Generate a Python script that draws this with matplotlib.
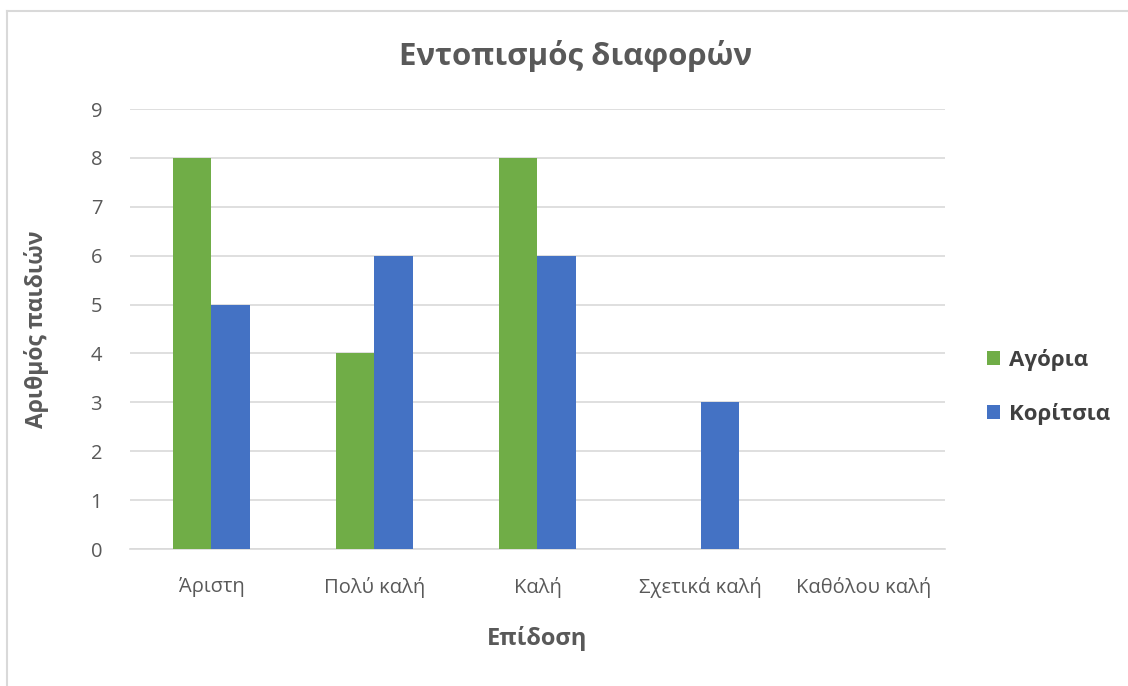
import matplotlib.pyplot as plt
import numpy as np

categories = ['Άριστη', 'Πολύ καλή', 'Καλή', 'Σχετικά καλή', 'Καθόλου καλή']
boys = [8, 4, 8, 0, 0]
girls = [5, 6, 6, 3, 0]

plt.rcParams['font.family'] = ['Open Sans', 'DejaVu Sans']

fig = plt.figure(figsize=(11.28, 6.86), dpi=100)
ax = fig.add_axes([0.1152, 0.1997, 0.7226, 0.6413])

x = np.arange(len(categories))
w = 0.236
ax.bar(x - w / 2, boys, w, color='#70AD47', label='Αγόρια', zorder=3)
ax.bar(x + w / 2, girls, w, color='#4472C4', label='Κορίτσια', zorder=3)

ax.set_xlim(-0.5, len(categories) - 0.5)
ax.set_ylim(0, 9)
ax.set_yticks(range(0, 10))
ax.yaxis.grid(True, color='#d9d9d9', linewidth=1.2, zorder=0)
for s in ['top', 'right', 'left']:
    ax.spines[s].set_visible(False)
ax.spines['bottom'].set_color('#d9d9d9')
ax.spines['bottom'].set_linewidth(1.2)
ax.tick_params(axis='both', length=0, labelsize=14.5, labelcolor='#595959')
ax.tick_params(axis='y', pad=20)
ax.tick_params(axis='x', pad=20)
ax.set_xticks(x)
ax.set_xticklabels(categories)

ax.set_xlabel('Επίδοση', fontsize=17, fontweight='bold', color='#595959', labelpad=20)
ax.set_ylabel('Αριθμός παιδιών', fontsize=16.5, fontweight='bold', color='#595959', labelpad=30)
fig.text(0.51, 0.918, 'Εντοπισμός διαφορών', ha='center', va='center',
         fontsize=22.5, fontweight='bold', color='#595959')

fig.legend(loc='center left', bbox_to_anchor=(0.857, 0.436), frameon=False,
           prop={'size': 16, 'weight': 'bold'}, labelcolor='#404040',
           handlelength=0.6, handleheight=0.6, handletextpad=0.4, labelspacing=1.45)

# chart frame
fig.add_artist(plt.Line2D([0.0066, 0.0066], [0, 0.984], color='#d9d9d9', lw=1.5))
fig.add_artist(plt.Line2D([0.0066, 1], [0.984, 0.984], color='#d9d9d9', lw=1.5))

fig.savefig('out.png', dpi=100, facecolor='white')
